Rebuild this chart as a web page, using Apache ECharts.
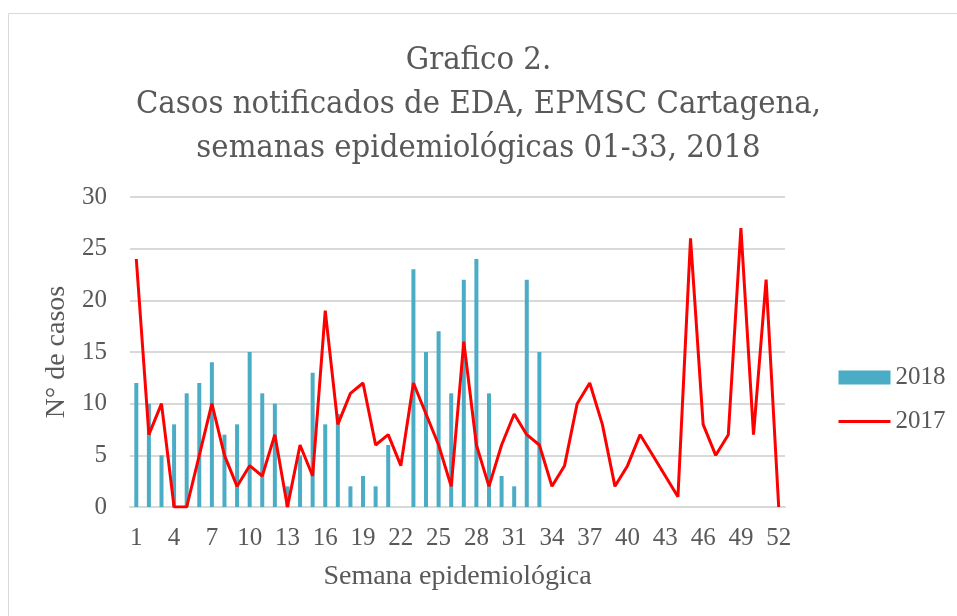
<!DOCTYPE html>
<html>
<head>
<meta charset="utf-8">
<script src="https://cdn.jsdelivr.net/npm/echarts@6/dist/echarts.min.js"></script>
<style>
  html, body { margin: 0; padding: 0; background: #fff; }
  #dv { width: 957px; height: 616px; }
</style>
</head>
<body>
<div id="dv"></div>
<script>
var semanas = []
for (var i = 1; i <= 52; i++) semanas.push(String(i))

// casos 2018, semanas 01-33
var casos2018 = [12, 10, 5, 8, 11, 12, 14, 7, 8, 15, 11, 10, 2, 5, 13, 8, 9, 2, 3, 2, 6, 0, 23, 15, 17, 11, 22, 24, 11, 3, 2, 22, 15]
// casos 2017, semanas 01-52
var casos2017 = [24, 7, 10, 0, 0, 5, 10, 5, 2, 4, 3, 7, 0, 6, 3, 19, 8, 11, 12, 6, 7, 4, 12, 9, 6, 2, 16, 6, 2, 6, 9, 7, 6, 2, 4, 10, 12, 8, 2, 4, 7, 5, 3, 1, 26, 8, 5, 7, 27, 7, 22, 0]

var yTicks = [0, 5, 10, 15, 20, 25, 30]

var fuente = 'Liberation Serif'
var gris = '#595959'

var chartDom = document.getElementById('dv');
var myChart = echarts.init(chartDom);
var option;

option = {
    backgroundColor: '#fff',
    animation: false,
    graphic: [{
        type: 'rect',
        shape: { x: 8.5, y: 13.5, width: 960, height: 620 },
        style: { fill: 'none', stroke: '#d9d9d9', lineWidth: 1 },
        z: -1
    }],
    title: {
        text: 'Grafico 2.\nCasos notificados de EDA, EPMSC Cartagena,\nsemanas epidemiológicas 01-33, 2018',
        left: 'center',
        top: 34,
        textStyle: {
            fontFamily: 'DejaVu Serif Condensed',
            fontWeight: 'normal',
            fontSize: 32.5,
            lineHeight: 44,
            color: gris
        }
    },
    legend: {
        orient: 'vertical',
        left: 832,
        top: 360,
        itemWidth: 52,
        itemHeight: 14,
        itemGap: 19,
        textStyle: { fontFamily: fuente, fontSize: 25, color: gris },
        data: [
            { name: '2018', icon: 'rect' },
            { name: '2017', itemStyle: { opacity: 0 }, lineStyle: { width: 3 } }
        ]
    },
    grid: {
        left: 130,
        right: 172,
        top: 197,
        bottom: 109
    },
    xAxis: [{
        type: 'category',
        data: semanas,
        name: 'Semana epidemiológica',
        nameLocation: 'middle',
        nameGap: 56,
        nameTextStyle: { fontFamily: fuente, fontSize: 28, color: gris },
        axisLine: { lineStyle: { color: '#d9d9d9', width: 2 } },
        axisTick: { show: false },
        axisLabel: { interval: 2, margin: 19, fontFamily: fuente, fontSize: 25, color: gris }
    }],
    yAxis: [{
        type: 'value',
        min: yTicks[0],
        max: yTicks[yTicks.length - 1],
        interval: 5,
        name: 'N° de casos',
        nameLocation: 'middle',
        nameGap: 54,
        nameTextStyle: { fontFamily: fuente, fontSize: 28, color: gris },
        axisLine: { show: false },
        axisTick: { show: false },
        axisLabel: { margin: 23, fontFamily: fuente, fontSize: 25, color: gris },
        splitLine: { lineStyle: { color: '#d9d9d9', width: 2 } }
    }],
    series: [
        {
            name: '2018',
            type: 'bar',
            barWidth: 4,
            itemStyle: { color: '#4bacc6' },
            data: casos2018
        },
        {
            name: '2017',
            type: 'line',
            symbol: 'none',
            lineStyle: { color: '#ff0000', width: 3 },
            itemStyle: { color: '#ff0000' },
            data: casos2017
        }
    ]
};

option && myChart.setOption(option);
</script>
</body>
</html>
